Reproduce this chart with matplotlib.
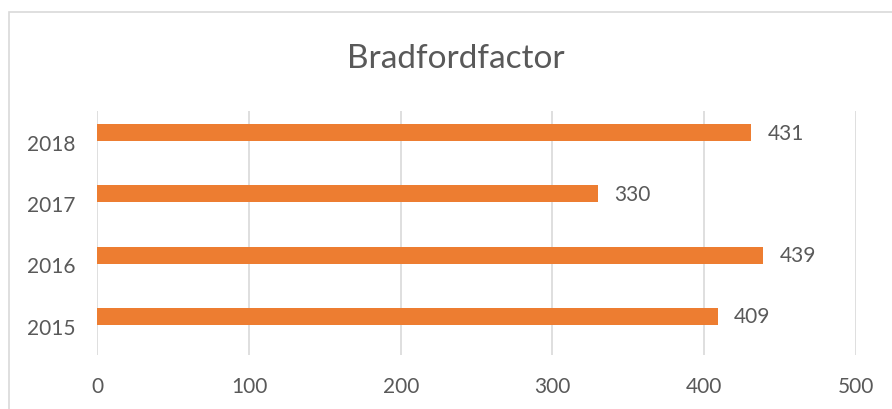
import matplotlib.pyplot as plt
from matplotlib.patches import Rectangle

# Data
years = ['2015', '2016', '2017', '2018']
values = [409, 439, 330, 431]

plt.rcParams['font.family'] = ['Lato', 'DejaVu Sans']

fig = plt.figure(figsize=(8.92, 4.10), dpi=100)
ax = fig.add_axes([0.1093, 0.1317, 0.8498, 0.595])

pos = list(range(len(years)))
bars = ax.barh(pos, values, height=0.277, color='#ED7D31', zorder=3)

for p, v in zip(pos, values):
    ax.text(v + 11, p, str(v), va='center', ha='left', fontsize=15, color='#595959')

ax.set_xlim(0, 500)
ax.set_ylim(-0.628, 3.35)
ax.set_xticks([0, 100, 200, 300, 400, 500])
ax.set_yticks([p - 0.147 for p in pos])
ax.set_yticklabels(years)
ax.tick_params(axis='both', length=0, labelsize=15, labelcolor='#595959')
ax.tick_params(axis='x', pad=15)
ax.tick_params(axis='y', pad=16)
ax.grid(axis='x', color='#D9D9D9', linewidth=1.2, zorder=0)
for s in ax.spines.values():
    s.set_visible(False)

fig.text(0.511, 0.855, 'Bradfordfactor', ha='center', va='center', fontsize=24, color='#595959')

fig.patches.append(Rectangle((9 / 892, -0.1), 1.1, (410 - 13) / 410 + 0.1,
                             transform=fig.transFigure, fill=False,
                             edgecolor='#D9D9D9', linewidth=1.2))

fig.savefig('out.png', dpi=100)
